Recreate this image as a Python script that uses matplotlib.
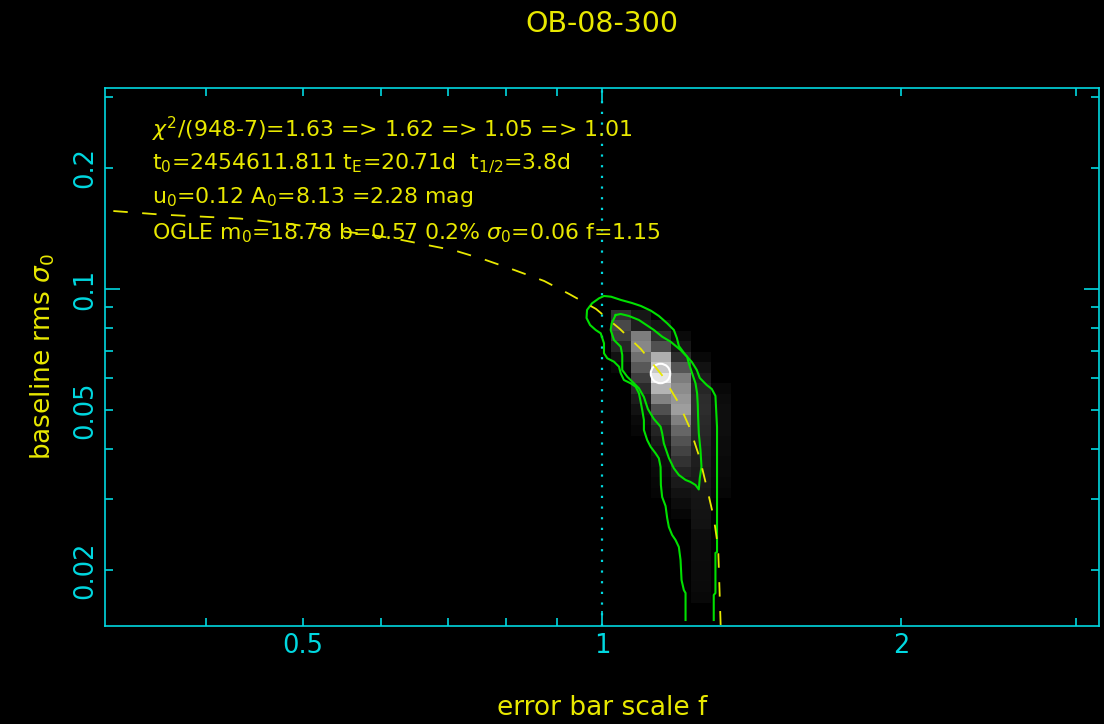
import numpy as np
import matplotlib
matplotlib.use('Agg')
import matplotlib.pyplot as plt
from matplotlib.ticker import FixedLocator, FuncFormatter

# colours
CYAN = '#00d8e0'
YELLOW = '#e8e800'
GREEN = '#00e000'

title = 'OB-08-300'
info_lines = [
    r'$\chi^2$/(948-7)=1.63 => 1.62 => 1.05 => 1.01',
    r'$\mathrm{t}_0$=2454611.811 $\mathrm{t}_\mathrm{E}$=20.71d  $\mathrm{t}_{1/2}$=3.8d',
    r'$\mathrm{u}_0$=0.12 $\mathrm{A}_0$=8.13 =2.28 mag',
    r'OGLE $\mathrm{m}_0$=18.78 b=0.57 0.2% $\sigma_0$=0.06 f=1.15',
]

# best fit
best_f = 1.145
best_sigma = 0.0617

# grid of the likelihood map (cell centres)
grid_f = [1.044, 1.094, 1.145, 1.200, 1.257, 1.317]
grid_sigma = [0.0861, 0.0811, 0.0763, 0.0719, 0.0677, 0.0638, 0.0601, 0.0566,
              0.0533, 0.0502, 0.0473, 0.0445, 0.0419, 0.0395, 0.0372, 0.0351,
              0.0330, 0.0311, 0.0293, 0.0276, 0.0260, 0.0245, 0.0231, 0.0217,
              0.0205, 0.0193, 0.0182, 0.0171, 0.0161]
# grey level (0-255), one row per sigma value
prob_grid = [
    [50, 22, 0, 0, 0, 0],
    [72, 30, 20, 0, 0, 0],
    [60, 125, 45, 10, 0, 0],
    [38, 135, 80, 22, 0, 0],
    [18, 112, 175, 45, 8, 0],
    [8, 88, 200, 85, 18, 0],
    [0, 62, 230, 125, 28, 0],
    [0, 42, 180, 140, 38, 8],
    [0, 28, 130, 150, 44, 12],
    [0, 18, 80, 158, 45, 14],
    [0, 10, 52, 128, 42, 14],
    [0, 6, 36, 102, 40, 14],
    [0, 0, 26, 82, 36, 12],
    [0, 0, 18, 66, 32, 12],
    [0, 0, 13, 50, 30, 10],
    [0, 0, 10, 36, 27, 10],
    [0, 0, 7, 26, 25, 8],
    [0, 0, 5, 18, 22, 6],
    [0, 0, 0, 12, 20, 0],
    [0, 0, 0, 6, 19, 0],
    [0, 0, 0, 0, 18, 0],
    [0, 0, 0, 0, 13, 0],
    [0, 0, 0, 0, 12, 0],
    [0, 0, 0, 0, 12, 0],
    [0, 0, 0, 0, 11, 0],
    [0, 0, 0, 0, 11, 0],
    [0, 0, 0, 0, 10, 0],
    [0, 0, 0, 0, 8, 0],
    [0, 0, 0, 0, 0, 0],
]

# outer contour (open at the bottom)
outer_f = [1.2135, 1.2135, 1.2087, 1.2023, 1.1995, 1.1948, 1.1857, 1.1764, 1.1675, 1.1629,
           1.1586, 1.1495, 1.1461, 1.1453, 1.1408, 1.1321, 1.1191, 1.1103, 1.1019, 1.1019,
           1.0976, 1.0936, 1.0893, 1.0809, 1.0686, 1.0521, 1.0442, 1.0401, 1.0281, 1.0123,
           1.0046, 1.0046, 0.9970, 0.9855, 0.9727, 0.9648, 0.9659, 0.9772, 0.9931, 1.0046,
           1.0210, 1.0449, 1.0718, 1.0943, 1.1199, 1.1408, 1.1629, 1.1811, 1.1893, 1.1948,
           1.2135, 1.2312, 1.2455, 1.2542, 1.2743, 1.2895, 1.3005, 1.3053, 1.3053, 1.3005,
           1.3005, 1.2954, 1.2954]
outer_sigma = [0.01502, 0.01753, 0.01783, 0.01888, 0.02118, 0.02282, 0.02375, 0.02444, 0.02558, 0.02695,
               0.02885, 0.03038, 0.03255, 0.03608, 0.03792, 0.03902, 0.04052, 0.04210, 0.04460, 0.04722,
               0.05000, 0.05244, 0.05503, 0.05715, 0.05827, 0.05938, 0.06171, 0.06408, 0.06594, 0.06724,
               0.06919, 0.07328, 0.07759, 0.07907, 0.08137, 0.08470, 0.08867, 0.09215, 0.09481, 0.09607,
               0.09569, 0.09390, 0.09230, 0.09073, 0.08831, 0.08567, 0.08217, 0.07907, 0.07554, 0.07215,
               0.06852, 0.06583, 0.06289, 0.06006, 0.05771, 0.05640, 0.05419, 0.04537, 0.02217, 0.02205,
               0.01753, 0.01733, 0.01502]

# inner contour (closed)
inner_f = [1.0322, 1.0442, 1.0644, 1.0893, 1.1277, 1.1495, 1.1721, 1.1995, 1.2179, 1.2227,
           1.2321, 1.2418, 1.2464, 1.2484, 1.2493, 1.2513, 1.2562, 1.2591, 1.2542, 1.2513,
           1.2418, 1.2275, 1.2135, 1.1948, 1.1811, 1.1675, 1.1540, 1.1495, 1.1453, 1.1277,
           1.1121, 1.1019, 1.0893, 1.0767, 1.0602, 1.0480, 1.0480, 1.0442, 1.0281, 1.0203,
           1.0227, 1.0322]
inner_sigma = [0.08616, 0.08666, 0.08567, 0.08373, 0.07907, 0.07610, 0.07395, 0.07051, 0.06786, 0.06534,
               0.06171, 0.05827, 0.05503, 0.05146, 0.04812, 0.04377, 0.03977, 0.03614, 0.03388, 0.03172,
               0.03255, 0.03312, 0.03350, 0.03447, 0.03581, 0.03799, 0.04131, 0.04377, 0.04545, 0.04749,
               0.05029, 0.05387, 0.05662, 0.05827, 0.06051, 0.06289, 0.06852, 0.07186, 0.07467, 0.07907,
               0.08217, 0.08616]

# dashed curve
curve_f = [0.3224, 0.3593, 0.4033, 0.4322, 0.4853, 0.5446, 0.5770, 0.6184, 0.6630, 0.7105,
           0.7613, 0.8160, 0.8745, 0.9266, 0.9862, 1.0425, 1.0943, 1.1487, 1.1947, 1.2256,
           1.2539, 1.2743, 1.2951, 1.3087, 1.3117, 1.3148, 1.3163]
curve_sigma = [0.1563, 0.1532, 0.1510, 0.1497, 0.1451, 0.1394, 0.1370, 0.1335, 0.1290, 0.1247,
               0.1184, 0.1115, 0.1047, 0.0972, 0.0892, 0.0795, 0.0709, 0.0611, 0.0520, 0.0451,
               0.0380, 0.0322, 0.0271, 0.0227, 0.0191, 0.0159, 0.0146]

x_labelled = [0.5, 1, 2]
y_labelled = [0.02, 0.05, 0.1, 0.2]


def log_edges(c):
    lc = np.log10(np.asarray(c, dtype=float))
    mid = (lc[1:] + lc[:-1]) / 2
    e = np.concatenate([[2 * lc[0] - mid[0]], mid, [2 * lc[-1] - mid[-1]]])
    return 10 ** e


fig = plt.figure(figsize=(11.04, 7.24), dpi=100, facecolor='black')
ax = fig.add_axes([0.0951, 0.1358, 0.9004, 0.7427])
ax.set_facecolor('black')
ax.set_xscale('log')
ax.set_yscale('log')

ax.pcolormesh(log_edges(grid_f), log_edges(grid_sigma), np.array(prob_grid),
              cmap='gray', vmin=0, vmax=255, shading='flat', zorder=1)

ax.axvline(1.0, color=CYAN, lw=1.6, ls=(0, (1, 3.8)), zorder=2)
ax.plot(outer_f, outer_sigma, color=GREEN, lw=1.5, zorder=3)
ax.plot(inner_f, inner_sigma, color=GREEN, lw=1.5, zorder=3)
ax.plot([best_f], [best_sigma], 'o', ms=14, mfc='none', mec='white', mew=1.5, zorder=4)
ax.plot(curve_f, curve_sigma, color=YELLOW, lw=1.3, ls=(0, (8, 8)), zorder=5)

ax.set_xlim(10 ** -0.5, 10 ** 0.5)
ax.set_ylim(0.01454, 10 ** -0.5)

# ticks: decades long, the rest short; labels at 1, 2, 5
ax.xaxis.set_major_locator(FixedLocator([1.0]))
ax.xaxis.set_minor_locator(FixedLocator([0.4, 0.5, 0.6, 0.7, 0.8, 0.9, 2, 3]))
ax.yaxis.set_major_locator(FixedLocator([0.1]))
ax.yaxis.set_minor_locator(FixedLocator([0.02, 0.03, 0.04, 0.05, 0.06, 0.07, 0.08, 0.09, 0.2, 0.3]))


def fmt_x(v, pos):
    return '%g' % v if any(abs(v - t) < 1e-9 for t in x_labelled) else ''


def fmt_y(v, pos):
    return '%g' % v if any(abs(v - t) < 1e-9 for t in y_labelled) else ''


ax.xaxis.set_major_formatter(FuncFormatter(fmt_x))
ax.xaxis.set_minor_formatter(FuncFormatter(fmt_x))
ax.yaxis.set_major_formatter(FuncFormatter(fmt_y))
ax.yaxis.set_minor_formatter(FuncFormatter(fmt_y))

ax.tick_params(which='both', direction='in', top=True, right=True, color=CYAN,
               width=1.2, labelcolor=CYAN, labelsize=18.5)
ax.tick_params(which='major', length=11)
ax.tick_params(which='minor', length=5.5)
ax.tick_params(axis='x', which='both', pad=5)
ax.tick_params(axis='y', which='both', pad=5, labelrotation=90)
for sp in ax.spines.values():
    sp.set_color(CYAN)
    sp.set_linewidth(1.2)

ax.set_title(title, color=YELLOW, fontsize=20.5, pad=0, y=1.1047)
ax.set_xlabel('error bar scale f', color=YELLOW, fontsize=19)
ax.xaxis.set_label_coords(0.5, -0.129)
ax.set_ylabel(r'baseline rms $\sigma_0$', color=YELLOW, fontsize=19)
ax.yaxis.set_label_coords(-0.0483, 0.5)

text_y = [0.9089, 0.8494, 0.7861, 0.7192]
for line, ty in zip(info_lines, text_y):
    ax.text(0.0473, ty, line, transform=ax.transAxes, color=YELLOW,
            fontsize=15.8, va='baseline', ha='left', zorder=6)

fig.canvas.draw()
for lbl in ax.get_yticklabels(which='both'):
    lbl.set_va('center')

fig.savefig('out.png', dpi=100, facecolor='black')
